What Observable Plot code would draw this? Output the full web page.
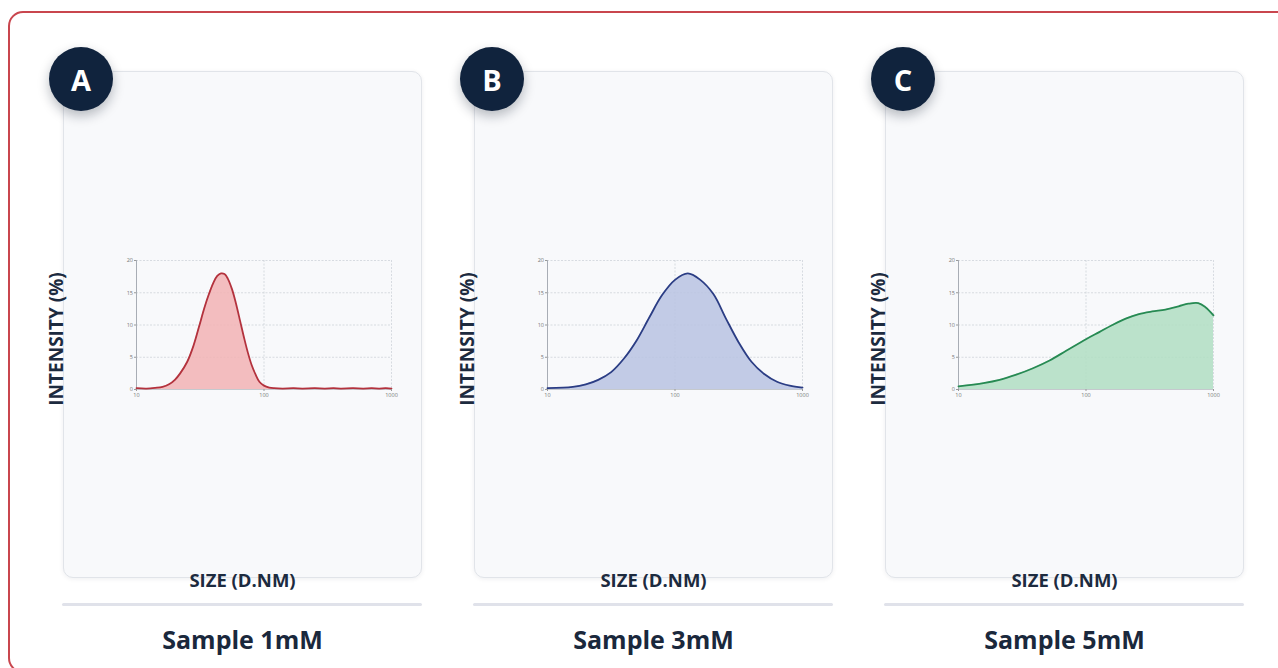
<!DOCTYPE html>
<html>
<head>
<meta charset="utf-8">
<script src="https://cdn.jsdelivr.net/npm/d3@7"></script>
<script src="https://cdn.jsdelivr.net/npm/@observablehq/plot@0.6"></script>
<style>
  html, body { margin: 0; padding: 0; }
  body { width: 1278px; height: 668px; overflow: hidden; background: #ffffff; position: relative; font-family: "Open Sans", "Noto Sans", sans-serif; }
  .frame { position: absolute; left: 8px; top: 11px; width: 1400px; height: 662px; border: 2.5px solid #c9464e; border-radius: 15px; box-sizing: border-box; }
  .card { position: absolute; top: 71px; width: 359px; height: 507px; background: #f8f9fb; border: 1px solid #e1e4e9; border-radius: 10px; box-sizing: border-box; box-shadow: 0 1px 5px rgba(20,30,50,0.07); }
  .badge { position: absolute; top: 47px; width: 64px; height: 64px; border-radius: 50%; background: #10233d; color: #fff; font-weight: 700; font-size: 29px; display: flex; align-items: center; justify-content: center; box-shadow: 0 5px 12px rgba(10,20,40,0.28); }
  .ylab { position: absolute; top: 339px; width: 180px; text-align: center; font-weight: 700; font-size: 19px; color: #1d2b3f; transform: translate(-50%, -50%) rotate(-90deg); white-space: nowrap; }
  .xlab { position: absolute; top: 567px; width: 359px; text-align: center; font-weight: 700; font-size: 18.5px; color: #1d2b3f; line-height: 26px; }
  .divider { position: absolute; top: 603px; width: 360px; height: 3px; background: #e0e2ea; border-radius: 2px; }
  .title { position: absolute; top: 622px; width: 359px; text-align: center; font-weight: 700; font-size: 25px; color: #1a283c; line-height: 34px; }
  .plot { position: absolute; top: 252px; }
</style>
</head>
<body>
<div class="frame"></div>
<div id="root"></div>
<script>
// ---- Data ----
const panelLetters = ["A", "B", "C"];
const panelTitles = ["Sample 1mM", "Sample 3mM", "Sample 5mM"];
const xTicks = [10, 100, 1000];
const yTicks = [0, 5, 10, 15, 20];

const sizesA =     [10, 12, 14, 16, 18, 20, 22, 25, 28, 31, 34, 37, 40, 43, 46, 49, 52, 56, 60, 65, 70, 75, 80, 86, 92, 100, 110, 120, 140, 170, 200, 250, 300, 350, 400, 500, 600, 700, 800, 900, 1000];
const intensityA = [0.2, 0.15, 0.25, 0.4, 0.8, 1.5, 2.5, 4.3, 6.8, 9.8, 12.6, 14.8, 16.5, 17.6, 18.0, 17.9, 17.2, 15.6, 13.5, 10.6, 7.9, 5.6, 3.8, 2.3, 1.2, 0.6, 0.3, 0.2, 0.15, 0.2, 0.15, 0.2, 0.15, 0.2, 0.15, 0.2, 0.15, 0.2, 0.15, 0.2, 0.15];

const sizesB =     [10, 15.8, 20, 25, 31.6, 39.8, 50, 63, 79, 100, 126, 158, 200, 251, 316, 398, 501, 631, 794, 1000];
const intensityB = [0.2, 0.4, 0.8, 1.5, 2.7, 4.8, 7.6, 11.2, 14.6, 17.0, 18.0, 17.0, 14.8, 11.0, 7.3, 4.3, 2.4, 1.2, 0.6, 0.3];

const sizesC =     [10, 15.7, 21, 28.4, 38.4, 51.8, 69.9, 100, 127, 161, 205, 260, 330, 420, 533, 635, 760, 860, 1000];
const intensityC = [0.5, 1.0, 1.5, 2.3, 3.3, 4.5, 6.0, 7.8, 8.9, 10.0, 11.0, 11.7, 12.1, 12.4, 12.9, 13.3, 13.4, 12.8, 11.5];

const lineColors = ["#b3323d", "#2b3d84", "#278a53"];
const fillColors = ["#f2b3b4", "#b9c3e2", "#b0dec2"];

const allSizes = [sizesA, sizesB, sizesC];
const allIntensity = [intensityA, intensityB, intensityC];

// ---- Layout ----
const root = document.getElementById("root");
const step = 411;
for (let i = 0; i < 3; i++) {
  const off = i * step;
  const card = document.createElement("div");
  card.className = "card"; card.style.left = (63 + off) + "px";
  root.appendChild(card);

  const badge = document.createElement("div");
  badge.className = "badge"; badge.style.left = (49 + off) + "px";
  badge.textContent = panelLetters[i];
  root.appendChild(badge);

  const ylab = document.createElement("div");
  ylab.className = "ylab"; ylab.style.left = (56 + off) + "px";
  ylab.textContent = "INTENSITY (%)";
  root.appendChild(ylab);

  const xlab = document.createElement("div");
  xlab.className = "xlab"; xlab.style.left = (63 + off) + "px";
  xlab.textContent = "SIZE (D.NM)";
  root.appendChild(xlab);

  const div = document.createElement("div");
  div.className = "divider"; div.style.left = (62 + off) + "px";
  root.appendChild(div);

  const title = document.createElement("div");
  title.className = "title"; title.style.left = (63 + off) + "px";
  title.textContent = panelTitles[i];
  root.appendChild(title);

  const data = allSizes[i].map((s, k) => ({size: s, intensity: allIntensity[i][k]}));
  const grid = {stroke: "#c9ced6", strokeOpacity: 1, strokeDasharray: "2,1.5", strokeWidth: 0.7};
  const plot = Plot.plot({
    width: 287, height: 151,
    marginLeft: 20, marginRight: 12, marginTop: 8, marginBottom: 14,
    style: {background: "transparent", fontSize: "5.5px", color: "#777", fontFamily: "Open Sans, sans-serif"},
    x: {type: "log", domain: [10, 1000]},
    y: {domain: [0, 20]},
    marks: [
      Plot.gridY([5, 10, 15, 20], grid),
      Plot.gridX([100, 1000], grid),
      Plot.areaY(data, {x: "size", y: "intensity", fill: fillColors[i], fillOpacity: 0.85, curve: "catmull-rom"}),
      Plot.ruleX([10], {stroke: "#a8adb5", strokeWidth: 1}),
      Plot.ruleY([0], {stroke: "#b8bcc3", strokeWidth: 0.8}),
      Plot.lineY(data, {x: "size", y: "intensity", stroke: lineColors[i], strokeWidth: 1.8, curve: "catmull-rom"}),
      Plot.axisX(xTicks, {tickSize: 2, tickPadding: 1.5, tickFormat: d => String(d), label: null, stroke: "#999"}),
      Plot.axisY(yTicks, {tickSize: 2, tickPadding: 1.5, label: null, stroke: "#999"})
    ]
  });
  const holder = document.createElement("div");
  holder.className = "plot"; holder.style.left = (116 + off) + "px";
  holder.appendChild(plot);
  root.appendChild(holder);
}
</script>
</body>
</html>
